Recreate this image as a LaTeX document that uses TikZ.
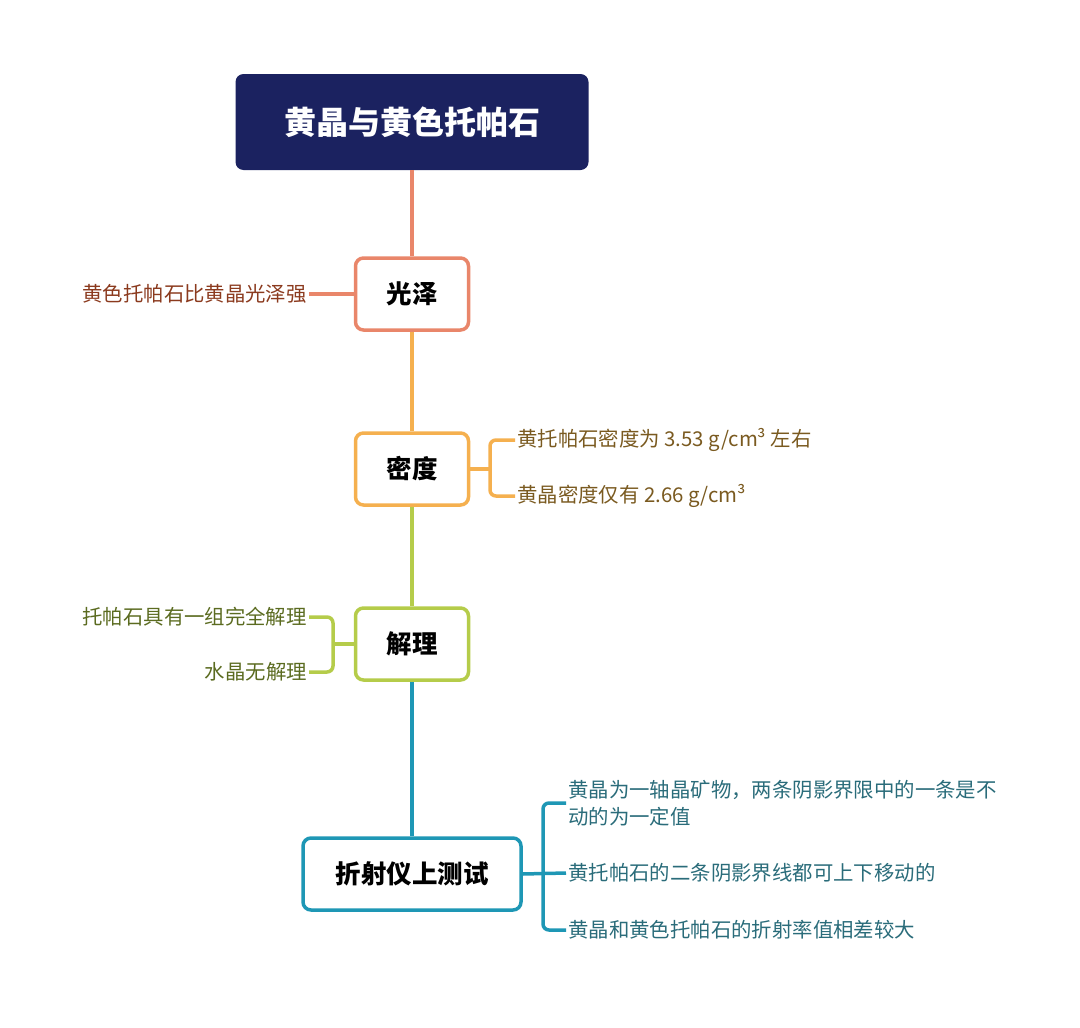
\documentclass[tikz,border=0pt]{standalone}
\usepackage{fontspec}
\setmainfont{Noto Sans CJK SC}
\definecolor{navy}{HTML}{1B2260}
\definecolor{cGloss}{HTML}{E9866A}
\definecolor{cDens}{HTML}{F5B04F}
\definecolor{cCleav}{HTML}{B5CC4A}
\definecolor{cRefr}{HTML}{1E97B5}
\definecolor{tGloss}{HTML}{8B3A1E}
\definecolor{tDens}{HTML}{7A5A20}
\definecolor{tCleav}{HTML}{5B6B20}
\definecolor{tRefr}{HTML}{2A6C7A}
\tikzset{
  topic/.style={draw, line width=3.5pt, rounded corners=8pt, fill=white, minimum height=72pt, font=\fontsize{25.5}{30}\selectfont\bfseries},
  leaf/.style={inner sep=2pt, font=\fontsize{20.4}{27}\selectfont},
  link/.style={line width=3.5pt},
  brace/.style={line width=3.5pt, rounded corners=6pt}
}
\begin{document}
\begin{tikzpicture}[x=1pt,y=-1pt]
\useasboundingbox (0,0) rectangle (1080,1028);

% title
\node[fill=navy, rounded corners=8pt, minimum width=353pt, minimum height=96pt, text=white, font=\fontsize{32}{36}\selectfont\bfseries] (title) at (412,122) {黄晶与黄色托帕石};

% topics
\node[topic, draw=cGloss, minimum width=113pt] (gloss) at (412,294) {光泽};
\node[topic, draw=cDens, minimum width=113pt] (dens) at (412,469) {密度};
\node[topic, draw=cCleav, minimum width=113pt] (cleav) at (412,644) {解理};
\node[topic, draw=cRefr, minimum width=218pt] (refr) at (412,874) {折射仪上测试};

% trunk
\draw[link, cGloss] (title.south) -- (gloss.north);
\draw[link, cDens] (gloss.south) -- (dens.north);
\draw[link, cCleav] (dens.south) -- (cleav.north);
\draw[link, cRefr] (cleav.south) -- (refr.north);

% gloss
\node[leaf, text=tGloss, anchor=east] (g1) at (309,294) {黄色托帕石比黄晶光泽强};
\draw[link, cGloss] (gloss.west) -- (g1.east);

% density
\node[leaf, text=tDens, anchor=west] (d1) at (515,440) {黄托帕石密度为 3.53 g/cm³ 左右};
\node[leaf, text=tDens, anchor=west] (d2) at (515,496) {黄晶密度仅有 2.66 g/cm³};
\coordinate (db) at (490,469);
\draw[link, cDens] (dens.east) -- (db);
\draw[brace, cDens] (d1.west) -| (db) |- (d2.west);

% cleavage
\node[leaf, text=tCleav, anchor=east] (c1) at (309,617) {托帕石具有一组完全解理};
\node[leaf, text=tCleav, anchor=east] (c2) at (309,672) {水晶无解理};
\coordinate (cb) at (333,644);
\draw[link, cCleav] (cleav.west) -- (cb);
\draw[brace, cCleav] (c1.east) -| (cb) |- (c2.east);

% refractometer
\node[leaf, text=tRefr, anchor=west, align=left] (r1) at (566,803) {黄晶为一轴晶矿物，两条阴影界限中的一条是不\\动的为一定值};
\node[leaf, text=tRefr, anchor=west] (r2) at (566,873) {黄托帕石的二条阴影界线都可上下移动的};
\node[leaf, text=tRefr, anchor=west] (r3) at (566,930) {黄晶和黄色托帕石的折射率值相差较大};
\coordinate (rb) at (543,873);
\coordinate (rt) at (566,803);
\draw[link, cRefr] (refr.east) -- (r2.west);
\draw[brace, cRefr] (rt) -| (rb) |- (r3.west);
\end{tikzpicture}
\end{document}
